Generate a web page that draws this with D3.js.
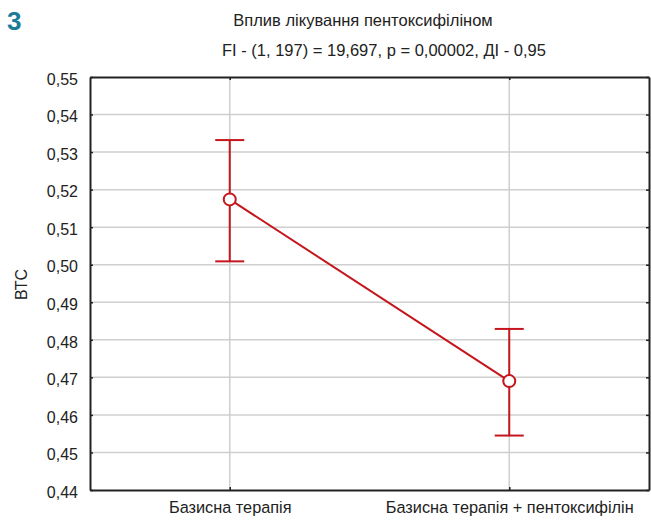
<!DOCTYPE html>
<html>
<head>
<meta charset="utf-8">
<script src="https://cdn.jsdelivr.net/npm/d3@7"></script>
<style>
  body { margin: 0; background: #fff; }
  text { font-family: "Liberation Sans", Arial, sans-serif; fill: #222; }
</style>
</head>
<body>
<div id="chart"></div>
<script>
// data
let groups = ["Базисна терапія", "Базисна терапія + пентоксифілін"];
let means = [0.5174, 0.4690];
let upper = [0.5332, 0.4829];
let lower = [0.5009, 0.4545];
let yTicks = [0.44, 0.45, 0.46, 0.47, 0.48, 0.49, 0.50, 0.51, 0.52, 0.53, 0.54, 0.55];

let titleLines = ["Вплив лікування пентоксифіліном",
    "FI - (1, 197) = 19,697, p = 0,00002, ДІ - 0,95"];

let margin = {top: 77, right: 2, bottom: 32, left: 90},
    width = 651 - margin.left - margin.right,
    height = 522 - margin.top - margin.bottom;

let svg = d3.select("#chart").append("svg")
    .attr("width", 651)
    .attr("height", 522);

let g = svg.append("g")
    .attr("transform", "translate(" + margin.left + "," + margin.top + ")");

let x = d3.scalePoint()
    .domain(groups)
    .range([0, width])
    .padding(0.5);

let y = d3.scaleLinear()
    .domain([0.44, 0.55])
    .range([height, 0]);

let fmt = d => d3.format(".2f")(d).replace(".", ",");

// grid
g.selectAll(".hgrid")
    .data(yTicks.slice(1, -1))
    .enter().append("line")
    .attr("x1", 0).attr("x2", width)
    .attr("y1", d => y(d)).attr("y2", d => y(d))
    .attr("stroke", "#cfcfcf").attr("stroke-width", 1.5);

g.selectAll(".vgrid")
    .data(groups)
    .enter().append("line")
    .attr("x1", d => x(d)).attr("x2", d => x(d))
    .attr("y1", 0).attr("y2", height)
    .attr("stroke", "#cfcfcf").attr("stroke-width", 1.5);

// axes
let yAxis = d3.axisLeft(y).tickValues(yTicks).tickFormat(fmt).tickSizeInner(-3).tickSizeOuter(0).tickPadding(12);
let yAxisR = d3.axisRight(y).tickValues(yTicks).tickFormat("").tickSizeInner(-3).tickSizeOuter(0);
let xAxis = d3.axisBottom(x).tickSizeInner(-3).tickSizeOuter(0).tickPadding(11);
let xAxisT = d3.axisTop(x).tickFormat("").tickSizeInner(-3).tickSizeOuter(0);

let ya = g.append("g").call(yAxis);
ya.selectAll("text").style("font-size", "16px").attr("dy", "0.45em");
g.append("g").attr("transform", "translate(" + width + ",0)").call(yAxisR);
let xa = g.append("g").attr("transform", "translate(0," + height + ")").call(xAxis);
xa.selectAll("text").style("font-size", "16.3px");
g.append("g").call(xAxisT);

g.selectAll(".domain").attr("stroke", "#222").attr("stroke-width", 2);
g.selectAll(".tick line").attr("stroke", "#222").attr("stroke-width", 1.5);

// line between means
let red = "#c4161c";
let line = d3.line().x((d, i) => x(groups[i])).y(d => y(d));
g.append("path")
    .datum(means)
    .attr("d", line)
    .attr("fill", "none")
    .attr("stroke", red)
    .attr("stroke-width", 2);

// error bars
let eb = g.selectAll(".eb")
    .data(groups)
    .enter().append("g");

eb.append("line")
    .attr("x1", d => x(d)).attr("x2", d => x(d))
    .attr("y1", (d, i) => y(upper[i])).attr("y2", (d, i) => y(lower[i]))
    .attr("stroke", red).attr("stroke-width", 2);

eb.append("line")
    .attr("x1", d => x(d) - 14.5).attr("x2", d => x(d) + 14.5)
    .attr("y1", (d, i) => y(upper[i])).attr("y2", (d, i) => y(upper[i]))
    .attr("stroke", red).attr("stroke-width", 2);

eb.append("line")
    .attr("x1", d => x(d) - 14.5).attr("x2", d => x(d) + 14.5)
    .attr("y1", (d, i) => y(lower[i])).attr("y2", (d, i) => y(lower[i]))
    .attr("stroke", red).attr("stroke-width", 2);

eb.append("circle")
    .attr("cx", d => x(d))
    .attr("cy", (d, i) => y(means[i]))
    .attr("r", 6)
    .attr("fill", "#fff")
    .attr("stroke", red)
    .attr("stroke-width", 2);

// titles
svg.append("text")
    .attr("x", 363).attr("y", 26)
    .attr("text-anchor", "middle")
    .style("font-size", "16.5px")
    .text(titleLines[0]);

svg.append("text")
    .attr("x", 384).attr("y", 56)
    .attr("text-anchor", "middle")
    .style("font-size", "16.5px")
    .text(titleLines[1]);

svg.append("text")
    .attr("transform", "translate(27," + (margin.top + height / 2 + 1) + ") rotate(-90)")
    .attr("text-anchor", "middle")
    .style("font-size", "16px")
    .text("ВТС");

svg.append("text")
    .attr("x", 7).attr("y", 30)
    .style("font-size", "26px")
    .style("font-weight", "bold")
    .style("fill", "#1b7c98")
    .text("3");
</script>
</body>
</html>
